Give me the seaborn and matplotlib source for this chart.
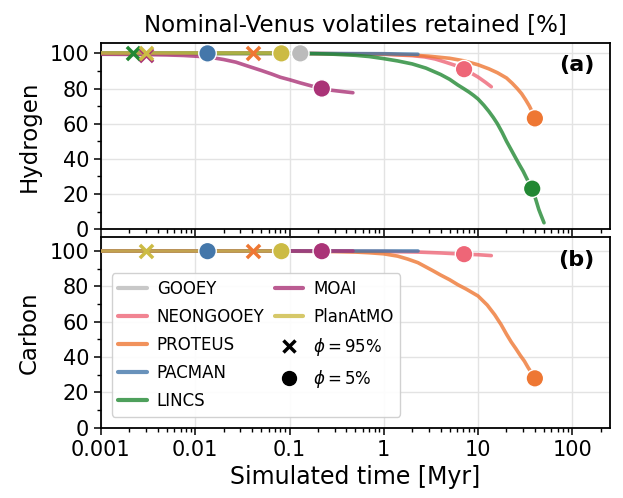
import matplotlib
matplotlib.use("Agg")
import matplotlib.pyplot as plt
from matplotlib.lines import Line2D
import seaborn as sns
import pandas as pd

# ---------------- data ----------------
models = ["GOOEY", "NEONGOOEY", "PROTEUS", "PACMAN", "LINCS", "MOAI", "PlanAtMO"]
colors = ["#BBBBBB", "#EE6677", "#EE7733", "#4477AA", "#228833", "#AA3377", "#CCBB44"]

# Hydrogen retained [%] vs time [Myr]
H_GOOEY_t = [0.001, 0.01, 0.13]
H_GOOEY_v = [100, 100, 100]
H_NEON_t = [0.001, 0.01, 0.1, 1, 2.0, 2.7, 3.5, 4.5, 5.7, 7.1, 8.5, 10, 12, 13.8]
H_NEON_v = [100, 100, 100, 99.5, 98.7, 98, 96.8, 95, 93.2, 91, 88.7, 86.5, 83.5, 81]
H_PROT_t = [0.001, 0.01, 0.1, 1, 2, 3, 5, 7, 10, 13, 16, 20, 23, 26, 29, 32, 35, 38, 40]
H_PROT_v = [100, 100, 100, 99.6, 99.0, 98.4, 97.2, 95.8, 93.5, 91.2, 89, 86, 83, 80, 77, 73.5, 70, 66, 63]
H_PAC_t = [0.001, 0.0135, 0.1, 1, 2.3]
H_PAC_v = [100, 100, 100, 99.8, 99.5]
H_LINCS_t = [0.001, 0.0022, 0.01, 0.1, 0.2, 0.3, 0.5, 0.7, 1, 1.4, 2, 2.8, 4, 5, 6.1, 7, 8, 9, 10,
             11.5, 13, 14.5, 16, 18, 20, 22.5, 25, 27.5, 30, 33, 35, 37.5, 40, 42, 44, 46, 48, 50]
H_LINCS_v = [100, 100, 100, 100, 99.8, 99.5, 98.9, 98.2, 97, 95.7, 94, 91.6, 88, 85.2, 82, 80, 78, 76, 74,
             70.5, 67, 63.5, 60, 55, 50, 45, 40.5, 36.5, 33, 28.5, 25.8, 23, 18.5, 14.8, 11.2, 8.5, 6, 3.6]
H_MOAI_t = [0.001, 0.002, 0.003, 0.005, 0.0075, 0.0135, 0.02, 0.027, 0.035, 0.05, 0.065, 0.08, 0.1,
            0.13, 0.17, 0.22, 0.28, 0.36, 0.47]
H_MOAI_v = [99.5, 99.4, 99.3, 99.1, 98.8, 98, 96.5, 95, 93, 90.3, 88.2, 86.4, 85, 83.2, 81.5, 80,
            79, 78.3, 77.6]
H_PLAN_t = [0.001, 0.003, 0.082]
H_PLAN_v = [100, 100, 100]

# Carbon retained [%]
C_GOOEY_t = [0.001, 0.01, 0.13]
C_GOOEY_v = [100, 100, 100]
C_NEON_t = [0.001, 0.01, 0.1, 1, 2.3, 4, 7.1, 10, 13.8]
C_NEON_v = [100, 100, 100, 99.8, 99.5, 99, 98.3, 98, 97.5]
C_PROT_t = [0.001, 0.01, 0.1, 0.2, 0.3, 0.5, 0.7, 1, 1.4, 1.8, 2.3, 2.7, 3.3, 4, 5, 6.1, 7.5, 10,
            12.5, 15, 17.5, 20, 22.5, 25, 28, 31, 34, 37, 40]
C_PROT_v = [100, 100, 100, 99.9, 99.8, 99.5, 99.1, 98.5, 97.2, 95.5, 93.5, 91.5, 89, 86.5, 83.8, 81,
            78.5, 74.6, 69.5, 64, 58.5, 53, 48.5, 45, 41, 37.7, 34, 31, 28]
C_PAC_t = [0.001, 0.0135, 0.1, 1, 2.3]
C_PAC_v = [100, 100, 100, 100, 100]
C_MOAI_t = [0.001, 0.003, 0.1, 0.22, 0.47]
C_MOAI_v = [100, 100, 100, 100, 100]
C_PLAN_t = [0.001, 0.003, 0.082]
C_PLAN_v = [100, 100, 100]

# markers: phi = 95% (x) and phi = 5% (o)
H_x_model = ["MOAI", "LINCS", "PlanAtMO", "PROTEUS"]
H_x_t = [0.003, 0.0022, 0.003, 0.041]
H_x_v = [99.3, 100, 100, 100]
H_o_model = ["PACMAN", "PlanAtMO", "GOOEY", "MOAI", "NEONGOOEY", "PROTEUS", "LINCS"]
H_o_t = [0.0135, 0.082, 0.13, 0.22, 7.1, 40, 37.5]
H_o_v = [100, 100, 100, 80, 91, 63, 23]

C_x_model = ["PlanAtMO", "PROTEUS"]
C_x_t = [0.003, 0.041]
C_x_v = [100, 100]
C_o_model = ["PACMAN", "PlanAtMO", "MOAI", "NEONGOOEY", "PROTEUS"]
C_o_t = [0.0135, 0.082, 0.22, 7.1, 40]
C_o_v = [100, 100, 100, 98.3, 28]

yticks = [0, 20, 40, 60, 80, 100]
xticks = [0.001, 0.01, 0.1, 1, 10, 100]
xticklabels = ["0.001", "0.01", "0.1", "1", "10", "100"]


def build(series):
    rows = []
    for m, t, v in series:
        for a, b in zip(t, v):
            rows.append((m, a, b))
    return pd.DataFrame(rows, columns=["model", "t", "v"])


H_lines = build([("GOOEY", H_GOOEY_t, H_GOOEY_v), ("NEONGOOEY", H_NEON_t, H_NEON_v),
                 ("PROTEUS", H_PROT_t, H_PROT_v), ("PACMAN", H_PAC_t, H_PAC_v),
                 ("LINCS", H_LINCS_t, H_LINCS_v), ("MOAI", H_MOAI_t, H_MOAI_v),
                 ("PlanAtMO", H_PLAN_t, H_PLAN_v)])
C_lines = build([("GOOEY", C_GOOEY_t, C_GOOEY_v), ("NEONGOOEY", C_NEON_t, C_NEON_v),
                 ("PROTEUS", C_PROT_t, C_PROT_v), ("PACMAN", C_PAC_t, C_PAC_v),
                 ("MOAI", C_MOAI_t, C_MOAI_v), ("PlanAtMO", C_PLAN_t, C_PLAN_v)])

pal = dict(zip(models, colors))

sns.set_theme(style="ticks")
plt.rcParams["font.family"] = ["DejaVu Sans"]
plt.rcParams["text.color"] = "black"
plt.rcParams["axes.labelcolor"] = "black"
plt.rcParams["xtick.color"] = "black"
plt.rcParams["ytick.color"] = "black"
plt.rcParams["mathtext.fontset"] = "dejavusans"

fig = plt.figure(figsize=(6.23, 4.98), dpi=100)
ax1 = fig.add_axes([0.162, 0.540, 0.817, 0.374])
ax2 = fig.add_axes([0.162, 0.141, 0.817, 0.383], sharex=ax1)

for ax, lines, xm, xt, xv, om, ot, ov, ylab, tag, ytop in [
    (ax1, H_lines, H_x_model, H_x_t, H_x_v, H_o_model, H_o_t, H_o_v, "Hydrogen", "(a)", 106),
    (ax2, C_lines, C_x_model, C_x_t, C_x_v, C_o_model, C_o_t, C_o_v, "Carbon", "(b)", 108),
]:
    ax.grid(True, color="#e3e3e3", lw=1.0, zorder=0)
    for m in models:
        sub = lines[lines.model == m]
        if len(sub) == 0:
            continue
        sns.lineplot(data=sub, x="t", y="v", color=pal[m], lw=2.6, alpha=0.8,
                     estimator=None, sort=False, ax=ax, legend=False, zorder=3)
    for m, t, v in zip(xm, xt, xv):
        sns.scatterplot(x=[t], y=[v], marker="x", s=90, color=pal[m],
                        linewidth=2.5, ax=ax, legend=False, zorder=5)
    do = pd.DataFrame({"model": om, "t": ot, "v": ov})
    sns.scatterplot(data=do, x="t", y="v", hue="model", palette=pal, s=160,
                    edgecolor="white", linewidth=1.0, ax=ax, legend=False, zorder=6)
    ax.set_xscale("log")
    ax.set_xlim(0.001, 250)
    ax.set_ylim(0, ytop)
    ax.set_yticks(yticks)
    ax.set_yticks(range(10, 101, 20), minor=True)
    ax.set_ylabel(ylab, fontsize=16.5, labelpad=6)
    ax.set_xlabel("")
    ax.tick_params(axis="both", which="major", labelsize=15, length=5, width=1.1, direction="out")
    ax.tick_params(axis="both", which="minor", length=3, width=1.0)
    for s in ax.spines.values():
        s.set_linewidth(1.3)
        s.set_color("black")
    ax.text(0.97, 0.88, tag, transform=ax.transAxes, ha="right", va="center",
            fontsize=16, fontweight="bold")

ax1.tick_params(axis="x", labelbottom=False)
ax2.set_xticks(xticks)
ax2.set_xticklabels(xticklabels)
ax2.set_xlabel("Simulated time [Myr]", fontsize=17)
ax1.set_title("Nominal-Venus volatiles retained [%]", fontsize=16.5, pad=8)

handles = [Line2D([], [], color=c, lw=3, alpha=0.8, label=m) for m, c in zip(models, colors)]
handles.append(Line2D([], [], ls="none", marker="x", color="black", markersize=9,
                      markeredgewidth=2.5, label=r"$\phi=95\%$"))
handles.append(Line2D([], [], ls="none", marker="o", color="black", markersize=10,
                      label=r"$\phi=5\%$"))
ax2.legend(handles=handles, ncol=2, loc="lower left", bbox_to_anchor=(0.005, 0.015),
           fontsize=12, frameon=True, framealpha=0.9, edgecolor="#cccccc",
           handlelength=1.7, columnspacing=0.6, handletextpad=0.6, labelspacing=0.6,
           borderpad=0.4)

fig.savefig("out.png", dpi=100)
